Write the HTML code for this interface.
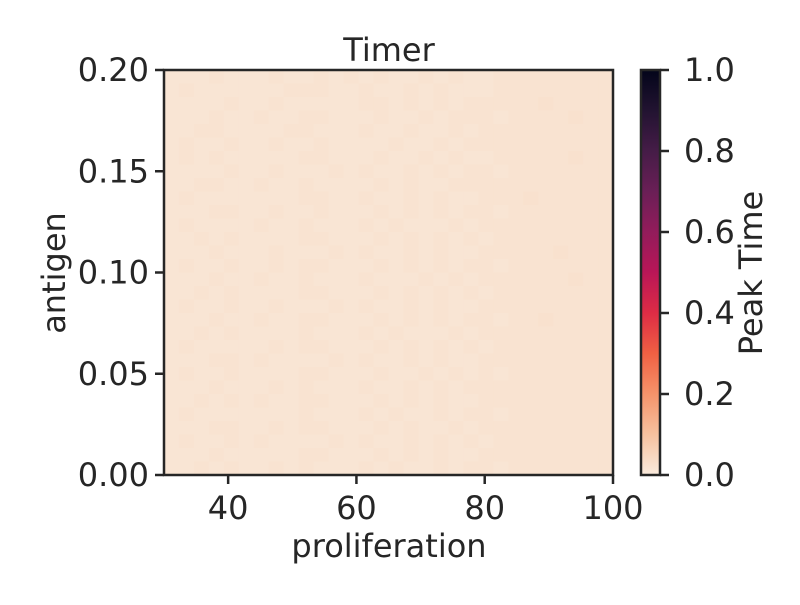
<!DOCTYPE html>
<html><head><meta charset="utf-8"><style>
body{margin:0;background:#fff}
svg text{font-family:"DejaVu Sans","Liberation Sans",sans-serif;fill:#262626}
</style></head><body>
<svg id="chart" width="800" height="600">
<defs><linearGradient id="rocket" x1="0" y1="1" x2="0" y2="0">
<stop offset="0" stop-color="#faebdd"/><stop offset="0.1" stop-color="#f6c19f"/><stop offset="0.2" stop-color="#f5936a"/><stop offset="0.3" stop-color="#f06043"/><stop offset="0.4" stop-color="#dd2c45"/><stop offset="0.5" stop-color="#b91657"/><stop offset="0.6" stop-color="#921c5b"/><stop offset="0.7" stop-color="#6a1f56"/><stop offset="0.8" stop-color="#451c47"/><stop offset="0.9" stop-color="#221331"/><stop offset="1" stop-color="#03051a"/>
</linearGradient></defs>
<g id="cells"></g>
<text x="389" y="61" font-size="32" text-anchor="middle">Timer</text>
<text x="389" y="557" font-size="32" text-anchor="middle">proliferation</text>
<text transform="translate(65,273) rotate(-90)" font-size="32" text-anchor="middle">antigen</text>
<g id="axes"></g>
<rect x="641" y="70" width="19" height="405" fill="url(#rocket)"/>
<rect x="641" y="70" width="19" height="405" fill="none" stroke="#262626" stroke-width="2.5"/>
<text transform="translate(762,273) rotate(-90)" font-size="32" text-anchor="middle">Peak Time</text>
<rect x="164" y="70" width="449" height="405" fill="none" stroke="#262626" stroke-width="2.5"/>
</svg>
<script>
const xDomain=[30,100];
const yDomain=[0,0.2];
const xTicks=[40,60,80,100];
const yTicks=[0.00,0.05,0.10,0.15,0.20];
const cbTicks=[0.0,0.2,0.4,0.6,0.8,1.0];
// values per row (top row first), 30 x 30, in units of 0.005
const gridRows=[
"333433343343434334343344444444",
"343333334443343343433344444444",
"333343343333344343434444454444",
"333433433443334334344434444544",
"334433334433343343343444444444",
"343343343343333433434444444444",
"343433333443334334343344444544",
"333343343334343343434434444444",
"334433433433334343344444444444",
"343333333443343343433444544444",
"333443343343334343434434444444",
"343333433433343433343444444444",
"334343333443334343434344444444",
"333433343334343343433444445444",
"343343343443334343434434444444",
"333433433433343334343444444544",
"334343333443334343434344444444",
"343343343334343343433444444444",
"333433433443334343434434454444",
"334343333433343433343444444444",
"343333343443334343434344444444",
"333443433334343343433444444444",
"343343333443334334343434444444",
"333433343433343343434444444444",
"334343433443334343433444444444",
"343333333433343433434434444444",
"333443343443334343343444444444",
"343343433334343343434344444444",
"333433333443334343433444444444",
"334343343433343433434434444444"
];
const ns="http://www.w3.org/2000/svg";
const L=164,R=613,T=70,B=475;
function sx(v){return L+(v-xDomain[0])/(xDomain[1]-xDomain[0])*(R-L);}
function sy(v){return B-(v-yDomain[0])/(yDomain[1]-yDomain[0])*(B-T);}
function cy(v){return B-v*(B-T);}
const stops=[[0,[250,235,221]],[0.1,[246,193,159]],[0.2,[245,147,106]],[0.3,[240,96,67]]];
function color(v){for(let i=0;i<stops.length-1;i++){const a=stops[i],b=stops[i+1];if(v<=b[0]){const t=(v-a[0])/(b[0]-a[0]);return 'rgb('+a[1].map((c,k)=>Math.round(c+(b[1][k]-c)*t)).join(',')+')';}}return 'rgb(240,96,67)';}
const cells=document.getElementById('cells');
const nr=gridRows.length,nc=gridRows[0].length;
const cw=(xDomain[1]-xDomain[0])/nc,ch=(yDomain[1]-yDomain[0])/nr;
gridRows.forEach((row,i)=>{for(let j=0;j<nc;j++){
 const v=parseInt(row[j])/200;
 const x0=sx(xDomain[0]+j*cw),x1=sx(xDomain[0]+(j+1)*cw);
 const y0=sy(yDomain[1]-i*ch),y1=sy(yDomain[1]-(i+1)*ch);
 const r=document.createElementNS(ns,'rect');
 r.setAttribute('x',x0);r.setAttribute('y',y0);r.setAttribute('width',x1-x0+0.5);r.setAttribute('height',y1-y0+0.5);
 r.setAttribute('fill',color(v));
 
 
 cells.appendChild(r);
}});
const axes=document.getElementById('axes');
function line(x1,y1,x2,y2,name){const l=document.createElementNS(ns,'line');l.setAttribute('x1',x1);l.setAttribute('y1',y1);l.setAttribute('x2',x2);l.setAttribute('y2',y2);l.setAttribute('stroke','#262626');l.setAttribute('stroke-width','2.5');


axes.appendChild(l);}
function text(x,y,s,anchor,name){const t=document.createElementNS(ns,'text');t.setAttribute('x',x);t.setAttribute('y',y);t.setAttribute('font-size','32');t.setAttribute('text-anchor',anchor);t.textContent=s;


axes.appendChild(t);}
xTicks.forEach(v=>{const x=sx(v);line(x,B,x,B+9,'x-tick');text(x,B+44,String(v),'middle','x-tick-label');});
yTicks.forEach(v=>{const y=sy(v);line(L-9,y,L,y,'y-tick');text(L-15,y+11,v.toFixed(2),'end','y-tick-label');});
cbTicks.forEach(v=>{const y=cy(v);line(660,y,669,y,'colorbar-tick');text(684,y+11,v.toFixed(1),'start','colorbar-tick-label');});
</script>
</body></html>
